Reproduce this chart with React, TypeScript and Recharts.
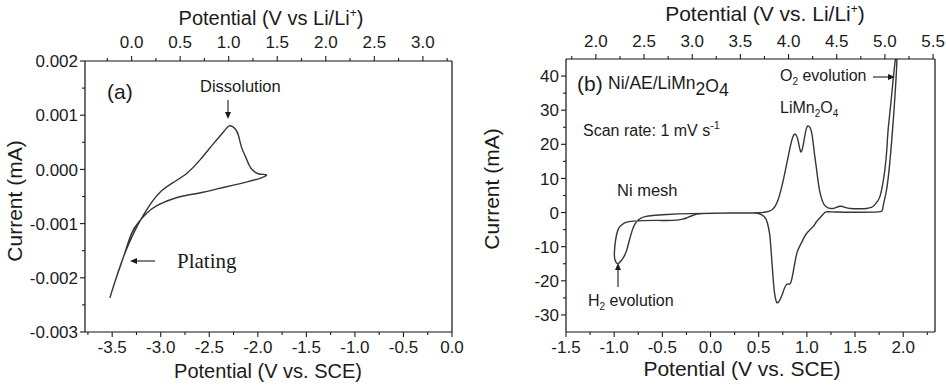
import React from "react";
import { LineChart, Line, XAxis, YAxis, ReferenceLine } from "recharts";

// (a) Li plating / dissolution loop: potential (V vs. SCE) and current (mA)
const cvA_E = [
  -3.524, -3.455, -3.37, -3.28, -3.197, -3.11, -3.007, -2.87, -2.73, -2.593, -2.455, -2.35, -2.3, -2.26,
  -2.23, -2.2, -2.17, -2.128, -2.09, -2.06, -2.02, -1.97, -1.91,
  -1.97, -2.11, -2.25, -2.42, -2.59, -2.77, -2.9, -3.04, -3.145, -3.23, -3.3, -3.37, -3.45, -3.524,
];
const cvA_I = [
  -0.00237, -0.00198, -0.00155, -0.00118, -0.0009, -0.00065, -0.00042, -0.00024, -0.00007, 0.00018,
  0.00048, 0.0007, 0.0008, 0.00079, 0.00074, 0.00063, 0.00042, 0.00024, 0.00008, 0.0, -0.00006, -0.00009,
  -0.0001,
  -0.00016, -0.00023, -0.00029, -0.00036, -0.00043, -0.00049, -0.00056, -0.00067, -0.00081, -0.00098,
  -0.00118, -0.00154, -0.00196, -0.00237,
];

// (b) Ni/AE/LiMn2O4 loop: potential (V vs. SCE) and current (mA)
const cvB_E = [
  -0.975, -0.955, -0.93, -0.9, -0.87, -0.842, -0.81, -0.78, -0.75, -0.72, -0.68, -0.6, -0.45, -0.2, 0.2,
  0.5, 0.58, 0.631, 0.7, 0.77, 0.82, 0.855, 0.884, 0.912, 0.943, 0.977, 1.0, 1.022, 1.045, 1.063, 1.08,
  1.099, 1.115, 1.133, 1.16, 1.185, 1.22, 1.27, 1.32, 1.35, 1.39, 1.45, 1.55, 1.62, 1.67, 1.7, 1.73,
  1.757, 1.785, 1.809, 1.83, 1.843, 1.87, 1.895, 1.92,
  1.935, 1.902, 1.86, 1.826, 1.79, 1.74, 1.5, 1.3, 1.2, 1.16, 1.1, 1.063, 0.995, 0.95, 0.907, 0.88,
  0.855, 0.828, 0.793, 0.759, 0.735, 0.7, 0.68, 0.665, 0.652, 0.641, 0.627, 0.613, 0.59, 0.561, 0.5,
  0.4, 0.2, 0.0, -0.1, -0.15, -0.2, -0.25, -0.3, -0.4, -0.55, -0.7, -0.8, -0.88, -0.93, -0.96, -0.985,
  -0.998, -0.99, -0.975,
];
const cvB_I = [
  -14.8, -14.9, -14.2, -13, -11, -8.1, -5, -3.2, -2.2, -1.6, -1.2, -0.85, -0.55, -0.3, -0.15,
  -0.05, 0.2, 0.67, 3.6, 11.4, 18.3, 22.2, 22.9, 20.7, 17.8, 22.2, 25, 25.3, 24, 21, 17,
  13, 9.5, 6.3, 3.5, 2.1, 1.4, 1.2, 1.7, 1.85, 1.6, 1.2, 1.1, 1.2, 1.5, 2.1, 3.2,
  4.6, 8, 12.4, 18.5, 24.1, 31.5, 38.8, 45,
  45, 29, 14.4, 6.5, 1.6, 0.2, 0.1, 0.15, 0.2, -0.8, -2.7, -4.2, -6.2, -8.5, -11, -14,
  -17.9, -20.8, -21, -22.8, -24.7, -26.4, -25.8, -23.7, -20, -15.9, -10.5, -6.2, -3, -1.3, -0.3,
  -0.1, -0.15, -0.25, -0.35, -0.55, -1.0, -1.6, -2.0, -2.3, -2.3, -2.35, -2.5, -2.9, -3.8, -5, -8,
  -12, -14, -14.8,
];

// tick values
const aBottomMajor = [-3.5, -3, -2.5, -2, -1.5, -1, -0.5, 0];
const aBottomMinor = [-3.75, -3.25, -2.75, -2.25, -1.75, -1.25, -0.75, -0.25];
const aTopMajor = [0, 0.5, 1, 1.5, 2, 2.5, 3];
const aTopMinor = [-0.25, 0.25, 0.75, 1.25, 1.75, 2.25, 2.75, 3.25];
const aYMajor = [-0.003, -0.002, -0.001, 0, 0.001, 0.002];
const aYMinor = [-0.0025, -0.0015, -0.0005, 0.0005, 0.0015];

const bBottomMajor = [-1.5, -1, -0.5, 0, 0.5, 1, 1.5, 2];
const bBottomMinor = [-1.25, -0.75, -0.25, 0.25, 0.75, 1.25, 1.75, 2.25];
const bTopMajor = [2, 2.5, 3, 3.5, 4, 4.5, 5, 5.5];
const bTopMinor = [1.75, 2.25, 2.75, 3.25, 3.75, 4.25, 4.75, 5.25];
const bYMajor = [-30, -20, -10, 0, 10, 20, 30, 40];
const bYMinor = [-25, -15, -5, 5, 15, 25, 35];

// Li/Li+ scale is the SCE scale shifted by a constant
const A_SHIFT = 3.3;
const B_SHIFT = 3.19;
const A_X: [number, number] = [-3.78, 0];
const B_X: [number, number] = [-1.5, 2.33];

const dataA = cvA_E.map((e, k) => ({ e, li: e + A_SHIFT, i: cvA_I[k] }));
const dataB = cvB_E.map((e, k) => ({ e, li: e + B_SHIFT, i: cvB_I[k] }));

const FONT = "'Liberation Sans', Arial, Helvetica, sans-serif";
const INK = "#1b1b1b";
const AXIS = { stroke: "#111", strokeWidth: 1.2 };
const CURVE = "#363636";

function fmt(v: number, digits: number) {
  if (Math.abs(v) < 1e-12) return (0).toFixed(digits);
  return v.toFixed(digits);
}

function tickFor(side: string, majors: number[], digits: number, fs: number, gap: number) {
  return (props: any) => {
    const { x, y, payload } = props;
    const v = payload.value;
    const major = majors.some((m) => Math.abs(m - v) < 1e-9);
    const len = major ? 5 : 3;
    const txt = major ? fmt(v, digits) : null;
    if (side === "bottom") {
      return (
        <g>
          <line x1={x} y1={y} x2={x} y2={y + len} stroke={INK} strokeWidth={1.1} />
          {txt && (
            <text x={x} y={y + gap} textAnchor="middle" fontSize={fs} fontFamily={FONT} fill={INK}>
              {txt}
            </text>
          )}
        </g>
      );
    }
    if (side === "top") {
      return (
        <g>
          <line x1={x} y1={y} x2={x} y2={y - len} stroke={INK} strokeWidth={1.1} />
          {txt && (
            <text x={x} y={y - gap} textAnchor="middle" fontSize={fs} fontFamily={FONT} fill={INK}>
              {txt}
            </text>
          )}
        </g>
      );
    }
    return (
      <g>
        <line x1={x} y1={y} x2={x - len} y2={y} stroke={INK} strokeWidth={1.1} />
        {txt && (
          <text x={x - gap} y={y + fs * 0.36} textAnchor="end" fontSize={fs} fontFamily={FONT} fill={INK}>
            {txt}
          </text>
        )}
      </g>
    );
  };
}

function PanelA() {
  return (
    <LineChart width={470} height={387} data={dataA} margin={{ top: 0, right: 18, bottom: 0, left: 0 }}>
      <XAxis
        xAxisId="bot"
        dataKey="e"
        type="number"
        domain={A_X}
        allowDataOverflow
        ticks={[...aBottomMajor, ...aBottomMinor]}
        interval={0}
        tickSize={0}
        tickMargin={0}
        tickLine={false}
        axisLine={AXIS}
        tick={tickFor("bottom", aBottomMajor, 1, 17, 21)}
        height={55}
      />
      <XAxis
        xAxisId="top"
        dataKey="li"
        orientation="top"
        type="number"
        domain={[A_X[0] + A_SHIFT, A_X[1] + A_SHIFT]}
        allowDataOverflow
        ticks={[...aTopMajor, ...aTopMinor]}
        interval={0}
        tickSize={0}
        tickMargin={0}
        tickLine={false}
        axisLine={AXIS}
        tick={tickFor("top", aTopMajor, 1, 17, 13)}
        height={61}
      />
      <YAxis
        yAxisId="y"
        type="number"
        domain={[-0.003, 0.002]}
        allowDataOverflow
        ticks={[...aYMajor, ...aYMinor]}
        interval={0}
        tickSize={0}
        tickMargin={0}
        tickLine={false}
        axisLine={AXIS}
        tick={tickFor("left", aYMajor, 3, 17, 7)}
        width={85}
      />
      <ReferenceLine xAxisId="bot" yAxisId="y" x={A_X[1]} stroke="#111" strokeWidth={1.2} />
      {/* invisible twin on the Li/Li+ axis so that axis gets its scale */}
      <Line xAxisId="top" yAxisId="y" dataKey="i" type="linear" stroke="none" dot={false} activeDot={false} isAnimationActive={false} />
      <Line
        xAxisId="bot"
        yAxisId="y"
        dataKey="i"
        type="natural"
        stroke={CURVE}
        strokeWidth={1.4}
        dot={false}
        isAnimationActive={false}
      />

      <text x={271} y={25} textAnchor="middle" fontSize={20} fontFamily={FONT} fill={INK}>
        Potential (V vs Li/Li<tspan fontSize={12} dy={-8}>+</tspan>
        <tspan dy={8}>)</tspan>
      </text>
      <text x={268} y={378} textAnchor="middle" fontSize={20} fontFamily={FONT} fill={INK}>
        Potential (V vs. SCE)
      </text>
      <text x={22} y={201} textAnchor="middle" fontSize={21} fontFamily={FONT} fill={INK} transform="rotate(-90 22 201)">
        Current (mA)
      </text>

      <text x={107} y={99} fontSize={21} fontFamily={FONT} fill={INK}>
        (a)
      </text>
      <text x={200} y={92} fontSize={16.5} fontFamily={FONT} fill={INK}>
        Dissolution
      </text>
      <line x1={228} y1={100} x2={228} y2={113} stroke={INK} strokeWidth={1.1} />
      <polygon points="225,112 231,112 228,119" fill={INK} />
      <text x={177} y={268} fontSize={21} fontFamily="'Liberation Serif', 'Times New Roman', serif" fill={INK}>
        Plating
      </text>
      <line x1={155} y1={261} x2={136} y2={261} stroke={INK} strokeWidth={1.1} />
      <polygon points="137,258 137,264 130,261" fill={INK} />
    </LineChart>
  );
}

function PanelB() {
  return (
    <LineChart width={476} height={387} data={dataB} margin={{ top: 0, right: 11, bottom: 0, left: 0 }}>
      <XAxis
        xAxisId="bot"
        dataKey="e"
        type="number"
        domain={B_X}
        allowDataOverflow
        ticks={[...bBottomMajor, ...bBottomMinor]}
        interval={0}
        tickSize={0}
        tickMargin={0}
        tickLine={false}
        axisLine={AXIS}
        tick={tickFor("bottom", bBottomMajor, 1, 17, 21)}
        height={55}
      />
      <XAxis
        xAxisId="top"
        dataKey="li"
        orientation="top"
        type="number"
        domain={[B_X[0] + B_SHIFT, B_X[1] + B_SHIFT]}
        allowDataOverflow
        ticks={[...bTopMajor, ...bTopMinor]}
        interval={0}
        tickSize={0}
        tickMargin={0}
        tickLine={false}
        axisLine={AXIS}
        tick={tickFor("top", bTopMajor, 1, 17, 12)}
        height={59}
      />
      <YAxis
        yAxisId="y"
        type="number"
        domain={[-35, 45]}
        allowDataOverflow
        ticks={[...bYMajor, ...bYMinor]}
        interval={0}
        tickSize={0}
        tickMargin={0}
        tickLine={false}
        axisLine={AXIS}
        tick={tickFor("left", bYMajor, 0, 17, 7)}
        width={96}
      />
      <ReferenceLine xAxisId="bot" yAxisId="y" x={B_X[1]} stroke="#111" strokeWidth={1.2} />
      <Line xAxisId="top" yAxisId="y" dataKey="i" type="linear" stroke="none" dot={false} activeDot={false} isAnimationActive={false} />
      <Line
        xAxisId="bot"
        yAxisId="y"
        dataKey="i"
        type="natural"
        stroke={CURVE}
        strokeWidth={1.4}
        dot={false}
        isAnimationActive={false}
      />

      <text x={295} y={21} textAnchor="middle" fontSize={21} fontFamily={FONT} fill={INK}>
        Potential (V vs. Li/Li<tspan fontSize={12} dy={-8}>+</tspan>
        <tspan dy={8}>)</tspan>
      </text>
      <text x={272} y={376} textAnchor="middle" fontSize={21} fontFamily={FONT} fill={INK}>
        Potential (V vs. SCE)
      </text>
      <text x={29} y={189} textAnchor="middle" fontSize={21} fontFamily={FONT} fill={INK} transform="rotate(-90 29 189)">
        Current (mA)
      </text>

      <text x={107} y={91} fontSize={21} fontFamily={FONT} fill={INK}>
        (b)
      </text>
      <text x={138} y={89} fontSize={17.5} fontFamily={FONT} fill={INK}>
        Ni/AE/LiMn<tspan dy={6}>2</tspan>
        <tspan dy={-3}>O</tspan>
        <tspan dy={4}>4</tspan>
      </text>
      <text x={113} y={136} fontSize={16} fontFamily={FONT} fill={INK}>
        Scan rate: 1 mV s<tspan fontSize={11} dy={-7}>-1</tspan>
      </text>
      <text x={147} y={196} fontSize={16.5} fontFamily={FONT} fill={INK}>
        Ni mesh
      </text>
      <text x={310} y={113} fontSize={16} fontFamily={FONT} fill={INK}>
        LiMn<tspan fontSize={10} dy={4}>2</tspan>
        <tspan dy={-4}>O</tspan>
        <tspan fontSize={10} dy={4}>4</tspan>
      </text>
      <text x={310} y={81} fontSize={16} fontFamily={FONT} fill={INK}>
        O<tspan fontSize={10} dy={4}>2</tspan>
        <tspan dy={-4}> evolution</tspan>
      </text>
      <line x1={403} y1={77} x2={419} y2={77} stroke={INK} strokeWidth={1.1} />
      <polygon points="418,74 418,80 425,77" fill={INK} />
      <text x={118} y={306} fontSize={16} fontFamily={FONT} fill={INK}>
        H<tspan fontSize={10} dy={4}>2</tspan>
        <tspan dy={-4}> evolution</tspan>
      </text>
      <line x1={148} y1={287} x2={148} y2={269} stroke={INK} strokeWidth={1.1} />
      <polygon points="145,270 151,270 148,263" fill={INK} />
    </LineChart>
  );
}

export default function App() {
  return (
    <div style={{ position: "absolute", left: 0, top: 0, width: 946, height: 387, background: "#fff" }}>
      <div style={{ position: "absolute", left: 0, top: 0 }}>
        <PanelA />
      </div>
      <div style={{ position: "absolute", left: 470, top: 0 }}>
        <PanelB />
      </div>
    </div>
  );
}
